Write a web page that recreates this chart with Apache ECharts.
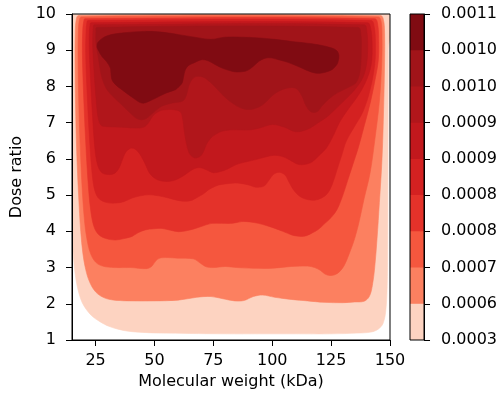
<!DOCTYPE html>
<html><head><meta charset="utf-8">
<script src="https://cdn.jsdelivr.net/npm/echarts@6/dist/echarts.min.js"></script>
<style>html,body{margin:0;padding:0;background:#fff}#c{width:500px;height:398px}</style>
</head><body><div id="c"></div>
<script>
// ---- data ----
const xTicks = [25, 50, 75, 100, 125, 150];
const colorbarLabels = ['0.0003','0.0006','0.0007','0.0008','0.0008','0.0009','0.0009','0.0010','0.0010','0.0011'];
const bandColors = ['#fdd3c1','#fc8060','#f5573e','#e4322a','#d42121','#c2181d','#b1161b','#a11419','#800b12'];

// superlevel-set outlines (molecular weight kDa, dose ratio), lowest level first
const level0 = [[14,10.3],[149.3,10.3],[149.3,9],[149.2,7],[149.1,5],[149,3.5],[148.8,2.5],[148.2,1.8],[147,1.45],[145,1.3],[142,1.22],[136,1.19],[125,1.17],[110,1.17],[95,1.17],[80,1.17],[65,1.18],[53,1.19],[45,1.21],[39,1.24],[34.5,1.3],[30.6,1.38],[27,1.5],[23.5,1.66],[21,1.85],[19.2,2.05],[17.9,2.3],[17,2.55],[16.2,2.9],[15.6,3.3],[15.1,3.7],[14,4.0]];
const level1 = [[17.8,9.96],[146,9.96],[147.2,9.85],[147.7,9.5],[147.7,8.7],[147.3,7.4],[146.6,6],[145.5,4.8],[144.5,3.8],[143.5,3.0],[142.5,2.5],[141.2,2.2],[139,2.07],[135,2.05],[130,2.03],[122,2.04],[115,2.08],[108,2.12],[101,2.18],[96,2.24],[92,2.2],[88,2.09],[84,2.08],[79,2.14],[74,2.2],[68,2.18],[60,2.1],[50,2.08],[40,2.08],[33,2.1],[28.5,2.17],[25,2.33],[22.5,2.6],[20.8,2.95],[19.6,3.4],[18.7,4],[17.8,5],[17,6.2],[16.5,7.5],[16.3,8.7],[16.4,9.5],[16.8,9.85]];
const level2 = [[19,9.92],[145,9.92],[146.2,9.8],[146.6,9.4],[146.5,8.7],[145.5,7.6],[143.5,6.5],[141.5,5.6],[139,4.9],[137,4.3],[135,3.8],[132.5,3.35],[130.5,3.05],[128.5,2.88],[126.5,2.8],[124.5,2.78],[122.4,2.82],[120.5,2.92],[118,3.0],[115,3.04],[108,3.03],[100,2.98],[92,2.98],[85,3.0],[80,3.03],[75,3.0],[72,3.02],[69.5,3.12],[66.5,3.24],[60,3.26],[53,3.27],[50.8,3.2],[48.8,3.03],[46.5,2.97],[40,3.0],[33,3.0],[28,3.04],[25,3.15],[22.8,3.4],[21.3,3.8],[20.3,4.3],[19.3,5.2],[18.4,6.5],[17.8,7.8],[17.6,8.8],[17.7,9.5],[18.1,9.82]];
const level3 = [[20.5,9.87],[143.5,9.87],[144.8,9.7],[145.2,9.2],[145,8.7],[144,8.3],[141.8,7.6],[139,6.9],[136.5,6.3],[134,5.8],[132,5.4],[130,5.0],[127.5,4.6],[125,4.38],[122.4,4.22],[119.5,4.05],[116.8,3.95],[114.5,3.88],[112.5,3.86],[110.5,3.87],[108.3,3.9],[104.5,4.0],[101.2,4.08],[97.5,4.16],[94.1,4.22],[90.5,4.26],[87.1,4.27],[83,4.22],[78.5,4.22],[74.4,4.22],[71,4.16],[67.4,4.08],[63.8,4.02],[60.3,3.99],[56.8,4.03],[53.2,4.08],[49.7,4.07],[46.1,4.04],[43,3.96],[40.5,3.86],[37,3.8],[33.4,3.76],[29.5,3.8],[26.5,3.9],[24.5,4.1],[23.1,4.5],[22,5.2],[20.8,6.5],[19.8,8],[19.4,9],[19.6,9.6],[20,9.8]];
const level4 = [[21.8,9.82],[142,9.82],[143.3,9.65],[143.8,9.2],[143.5,8.6],[141.5,7.9],[138.5,7.3],[135,6.9],[131.5,6.5],[129.5,6.1],[127.5,5.7],[125.5,5.3],[123.5,5.05],[121,4.92],[118,4.86],[115.5,4.87],[113,4.92],[111,5.0],[109,5.15],[107.2,5.35],[105.5,5.55],[103,5.63],[100.5,5.57],[98.5,5.4],[96.5,5.25],[93,5.22],[90,5.28],[86,5.33],[83,5.33],[80,5.31],[77.3,5.28],[75,5.22],[73,5.15],[70.7,5.03],[68.8,4.96],[66,4.86],[63.1,4.83],[59.5,4.86],[56,4.92],[51.8,4.98],[47.6,5.01],[44,4.98],[40.5,4.92],[37,4.82],[33.4,4.78],[29.5,4.8],[26.5,4.9],[24.8,5.1],[23.7,5.5],[22.5,6.5],[21.3,8],[20.8,9],[21,9.55],[21.3,9.75]];
const level5 = [[23.1,9.76],[140.5,9.76],[141.8,9.6],[142.4,9.2],[142,8.6],[139.5,8.1],[136,7.7],[132,7.35],[128.5,7.0],[126,6.65],[123,6.3],[120,6.1],[117,5.92],[114,5.85],[111,5.85],[108,5.95],[105,6.05],[101,6.1],[97,6.05],[93,5.98],[89,5.92],[85,5.85],[81,5.72],[78,5.65],[75,5.62],[72,5.7],[69,5.76],[66,5.7],[62,5.52],[58,5.4],[54,5.38],[50.5,5.45],[48,5.6],[46.5,5.8],[45,6.0],[43,6.2],[40.5,6.3],[38,6.2],[36.5,6.0],[35,5.75],[33,5.6],[30,5.57],[27.5,5.63],[25.8,5.85],[24.7,6.3],[23.7,7.2],[22.8,8.3],[22.3,9.1],[22.4,9.55],[22.7,9.7]];
const level6 = [[24.4,9.7],[139,9.7],[140.2,9.5],[140.5,9.0],[140,8.6],[138.5,8.25],[135.5,7.95],[132,7.7],[128,7.45],[124,7.2],[120,7.02],[115,6.82],[110,6.75],[105,6.88],[100,6.95],[95,6.86],[90.6,6.8],[86,6.8],[82,6.8],[78.5,6.76],[76.6,6.7],[74.3,6.6],[72.3,6.43],[70.8,6.2],[69.4,6.07],[67.2,6.03],[65.4,6.1],[64.5,6.2],[63.5,6.45],[62.6,6.8],[62,7.1],[61,7.3],[58,7.36],[55,7.36],[52.4,7.33],[49.5,7.2],[47.5,7.0],[45.5,6.88],[42,6.85],[38,6.87],[34,6.88],[30,6.89],[27.5,6.92],[26.2,7.1],[25.3,7.6],[24.4,8.4],[23.8,9.1],[23.9,9.5],[24.1,9.65]];
const level7 = [[25.6,9.63],[136.5,9.63],[137.6,9.45],[137.8,9.0],[137.2,8.4],[135.5,8.1],[133,8.0],[130,7.9],[127,7.8],[124,7.65],[121,7.45],[119,7.3],[116.5,7.3],[114.5,7.45],[112.5,7.75],[110,7.95],[106,7.95],[101,7.8],[96,7.5],[92,7.38],[88,7.38],[84,7.5],[80,7.7],[77,7.9],[74,8.1],[71,8.25],[68,8.28],[66,8.2],[64.5,8.0],[63.5,7.75],[62,7.6],[58,7.55],[53,7.45],[49,7.25],[46,7.1],[43,7.1],[40,7.25],[36,7.5],[32,7.75],[29.5,7.95],[27.5,8.3],[26.2,8.8],[25.2,9.2],[25.2,9.5]];
const level8 = [[26.3,9.24],[30,9.4],[37,9.48],[46.1,9.52],[53,9.5],[60.3,9.43],[67,9.36],[74,9.3],[80,9.36],[87,9.36],[94.1,9.34],[101,9.3],[108.3,9.24],[114,9.2],[119.6,9.15],[125.3,9.06],[127.5,8.98],[128.3,8.85],[128,8.7],[127.4,8.6],[125.5,8.47],[123.9,8.42],[121,8.37],[118.2,8.37],[114.5,8.45],[111.1,8.55],[106,8.68],[102.6,8.74],[99.5,8.79],[97,8.78],[94.5,8.7],[92.7,8.6],[90.5,8.48],[88.5,8.42],[85,8.4],[82.9,8.42],[79,8.5],[75.9,8.6],[73,8.7],[70.2,8.74],[66.7,8.65],[64.5,8.58],[63.1,8.46],[62.3,8.25],[61.7,8.09],[60,7.97],[58.9,7.91],[55,7.82],[51.8,7.72],[48,7.6],[44.7,7.54],[41,7.68],[36.2,7.91],[33.5,8.05],[32,8.18],[31.5,8.4],[31.3,8.51],[29.5,8.7],[27.7,8.83],[26.2,9.0],[25.6,9.11]];
const levels = [level0, level1, level2, level3, level4, level5, level6, level7, level8];

// ---- chart ----
const FONT = 'DejaVu Sans';
const chart = echarts.init(document.getElementById('c'), null, {renderer: 'canvas'});
const axisLineStyle = {color: '#000', width: 1};
const nBands = bandColors.length;
const option = {
  animation: false,
  backgroundColor: '#fff',
  textStyle: {fontFamily: FONT, color: '#000'},
  grid: [
    {left: 72, top: 14, width: 318, height: 326, show: true, z: 10, borderColor: '#000', borderWidth: 1, backgroundColor: 'transparent'},
    {left: 410, top: 14, width: 16, height: 326, show: true, z: 10, borderColor: '#000', borderWidth: 1, backgroundColor: 'transparent'}
  ],
  xAxis: [
    {type: 'value', gridIndex: 0, min: 15, max: 150,
     name: 'Molecular weight (kDa)', nameLocation: 'middle', nameGap: 28,
     nameTextStyle: {fontSize: 16, color: '#000', fontFamily: FONT},
     axisLine: {show: true, onZero: false, lineStyle: axisLineStyle},
     axisTick: {show: true, length: 6, customValues: xTicks, lineStyle: axisLineStyle},
     axisLabel: {show: true, customValues: xTicks, fontSize: 16, color: '#000', margin: 13, fontFamily: FONT},
     splitLine: {show: false}, z: 10},
    {type: 'value', gridIndex: 1, min: 0, max: 1, show: false}
  ],
  yAxis: [
    {type: 'value', gridIndex: 0, min: 1, max: 10, interval: 1,
     name: 'Dose ratio', nameLocation: 'middle', nameGap: 44, nameRotate: 90,
     nameTextStyle: {fontSize: 16, color: '#000', fontFamily: FONT},
     axisLine: {show: true, onZero: false, lineStyle: axisLineStyle},
     axisTick: {show: true, length: 6, lineStyle: axisLineStyle},
     axisLabel: {fontSize: 16, color: '#000', margin: 16, fontFamily: FONT},
     splitLine: {show: false}, z: 10},
    {type: 'value', gridIndex: 1, min: 0, max: 9, interval: 1, position: 'right',
     axisLine: {show: true, onZero: false, lineStyle: axisLineStyle},
     axisTick: {show: true, length: 6, lineStyle: axisLineStyle},
     axisLabel: {fontSize: 16, color: '#000', margin: 17, fontFamily: FONT,
                 formatter: v => colorbarLabels[Math.round(v)]},
     splitLine: {show: false}, z: 10}
  ],
  series: [
    {type: 'custom', xAxisIndex: 0, yAxisIndex: 0, clip: true, z: 2,
     data: levels.map((_, i) => i),
     renderItem: function (params, api) {
       const idx = params.dataIndex;
       const pts = levels[idx].map(p => api.coord(p));
       const cs = params.coordSys;
       return {
         type: 'group',
         clipPath: {type: 'rect', shape: {x: cs.x, y: cs.y, width: cs.width, height: cs.height}},
         children: [{
           type: 'polygon',
           shape: {points: pts, smooth: 0.35},
           style: {fill: bandColors[idx], stroke: bandColors[idx], lineWidth: 0.6}
         }]
       };
     }},
    // colorbar: band k spans [k, k+1]; drawn from the top band down, each from 0 so there are no seams
    {type: 'custom', xAxisIndex: 1, yAxisIndex: 1, z: 2,
     data: bandColors.map((_, i) => i),
     renderItem: function (params, api) {
       const k = nBands - 1 - params.dataIndex;
       const p0 = api.coord([0, 0]);
       const p1 = api.coord([1, k + 1]);
       return {
         type: 'rect',
         shape: {x: p0[0], y: p1[1], width: p1[0] - p0[0], height: p0[1] - p1[1]},
         style: {fill: bandColors[k]}
       };
     }}
  ]
};
chart.setOption(option);
</script>
</body></html>
